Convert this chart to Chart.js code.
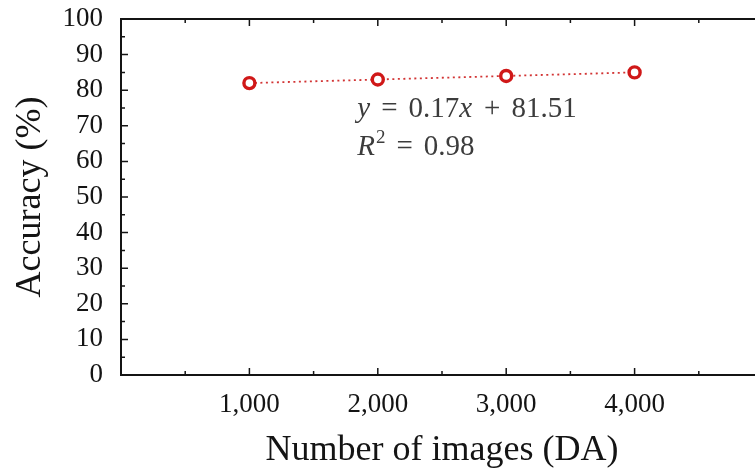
<!DOCTYPE html>
<html>
<head>
<title>Accuracy vs. number of images</title>
<script src="https://cdn.jsdelivr.net/npm/chart.js"></script>
<style>
  html, body { margin: 0; padding: 0; background: #fff; overflow: hidden; }
</style>
</head>
<body>

<canvas id="accChart" width="775" height="468"></canvas>

<script>
  // data
  const imageCounts = [1000, 2000, 3000, 4000];
  const accuracy = [82, 83, 84, 85];
  const xTickValues = [1000, 2000, 3000, 4000];
  const yTickValues = [0, 10, 20, 30, 40, 50, 60, 70, 80, 90, 100];
  const fitSlope = '0.17';
  const fitIntercept = '81.51';
  const fitR2 = '0.98';

  const SERIF = '"Liberation Serif", "Times New Roman", serif';
  const INK = '#141414';

  // frame around the plot + small inward ticks on all four sides
  const framePlugin = {
    id: 'frame',
    beforeDatasetsDraw(chart) {
      const ctx = chart.ctx;
      const { left, right, top, bottom } = chart.chartArea;
      const xs = chart.scales.x, ys = chart.scales.y;
      ctx.save();
      ctx.strokeStyle = INK;
      ctx.lineWidth = 1.5;
      ctx.beginPath();
      for (let v = 0; v <= 5000; v += 500) {
        const px = xs.getPixelForValue(v);
        const len = v % 1000 === 0 ? 7 : 4;
        ctx.moveTo(px, bottom); ctx.lineTo(px, bottom - len);
        ctx.moveTo(px, top); ctx.lineTo(px, top + len);
      }
      for (let v = 0; v <= 100; v += 5) {
        const py = ys.getPixelForValue(v);
        const len = v % 10 === 0 ? 7 : 4;
        ctx.moveTo(left, py); ctx.lineTo(left + len, py);
        ctx.moveTo(right, py); ctx.lineTo(right - len, py);
      }
      ctx.stroke();
      ctx.lineWidth = 2;
      ctx.strokeRect(left, top, right - left, bottom - top);
      ctx.restore();
    }
  };

  // regression equation written under the points
  const fitLabelPlugin = {
    id: 'fitLabel',
    afterDraw(chart) {
      const ctx = chart.ctx;
      const xs = chart.scales.x, ys = chart.scales.y;
      const size = 29;
      const x0 = xs.getPixelForValue(1840);
      const lines = [
        { y: ys.getPixelForValue(72.5), parts: [
          { t: 'y', it: true }, { gap: 10 }, { t: '=' }, { gap: 11 }, { t: fitSlope },
          { t: 'x', it: true }, { gap: 11 }, { t: '+' }, { gap: 11 }, { t: fitIntercept }
        ]},
        { y: ys.getPixelForValue(61.8), parts: [
          { t: 'R', it: true }, { t: '2', sup: true }, { gap: 11 }, { t: '=' }, { gap: 11 }, { t: fitR2 }
        ]}
      ];
      ctx.save();
      ctx.fillStyle = '#3c3c3c';
      ctx.textBaseline = 'alphabetic';
      ctx.textAlign = 'left';
      lines.forEach(line => {
        let x = x0;
        line.parts.forEach(p => {
          if (p.gap) { x += p.gap; return; }
          const fs = p.sup ? 19 : size;
          ctx.font = (p.it ? 'italic ' : '') + fs + 'px ' + SERIF;
          ctx.fillText(p.t, x, line.y - (p.sup ? 12 : 0));
          x += ctx.measureText(p.t).width + (p.it ? 1 : 0);
        });
      });
      ctx.restore();
    }
  };

  const ctx = document.getElementById('accChart').getContext('2d');
  const accChart = new Chart(ctx, {
    type: 'line',
    data: {
      datasets: [{
        label: 'Accuracy',
        data: imageCounts.map((n, i) => ({ x: n, y: accuracy[i] })),
        borderColor: 'rgba(205, 30, 30, 0.9)',
        borderWidth: 1.8,
        borderDash: [2, 3.5],
        pointRadius: 5.5,
        pointBorderWidth: 3.4,
        pointBorderColor: '#d01818',
        pointBackgroundColor: '#ffffff',
        tension: 0
      }]
    },
    options: {
      responsive: false,
      animation: false,
      layout: { padding: { top: 19, right: 12, left: 0, bottom: 0 } },
      plugins: {
        legend: { display: false },
        tooltip: { enabled: false }
      },
      scales: {
        x: {
          type: 'linear',
          min: 0,
          max: 5000,
          afterBuildTicks: s => { s.ticks = xTickValues.map(v => ({ value: v })); },
          afterFit: s => { s.height = 93; },
          grid: { display: false, drawTicks: false },
          border: { display: false },
          ticks: {
            autoSkip: false,
            padding: 14,
            color: INK,
            font: { family: SERIF, size: 27 },
            maxRotation: 0,
            callback: v => v.toLocaleString('en-US')
          },
          title: {
            display: true,
            text: 'Number of images (DA)',
            color: INK,
            font: { family: SERIF, size: 36 },
            padding: { top: 0, bottom: -4 }
          }
        },
        y: {
          min: 0,
          max: 100,
          afterBuildTicks: s => { s.ticks = yTickValues.map(v => ({ value: v })); },
          afterFit: s => { s.width = 121; s.paddingTop = 0; s.paddingBottom = 0; },
          grid: { display: false, drawTicks: false },
          border: { display: false },
          ticks: {
            autoSkip: false,
            padding: 18,
            color: INK,
            font: { family: SERIF, size: 27 }
          },
          title: {
            display: true,
            text: 'Accuracy (%)',
            color: INK,
            font: { family: SERIF, size: 36 },
            padding: { top: 9, bottom: 0 }
          }
        }
      }
    },
    plugins: [framePlugin, fitLabelPlugin]
  });
</script>

</body>
</html>
